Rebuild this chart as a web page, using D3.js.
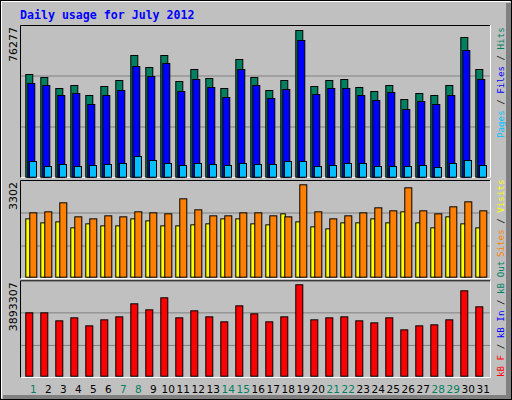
<!DOCTYPE html>
<html>
<head>
<meta charset="utf-8">
<script src="https://cdn.jsdelivr.net/npm/d3@7"></script>
<style>
  body { margin: 0; background: #fff; }
</style>
</head>
<body>
<div id="chart"></div>
<script>
// data
const days = d3.range(1, 32);
const weekendDays = [1, 7, 8, 14, 15, 21, 22, 28, 29];

const hits = [53400, 51840, 46120, 47680, 42480, 47160, 50280, 63280, 57040, 63280, 49760,
  56000, 51320, 46120, 61200, 51840, 45080, 50280, 76277, 47160, 50280, 50800, 46640,
  44560, 47680, 40400, 43520, 42480, 47680, 72640, 56000];
const files = [48720, 47680, 42480, 43520, 37800, 42480, 45080, 57560, 52360, 59120, 44560,
  50800, 46640, 41440, 56000, 47680, 40920, 45600, 71080, 43000, 46120, 46120, 42480,
  39880, 44040, 35200, 39360, 37800, 42480, 65880, 50800];
const pages = [8160, 5560, 6600, 5560, 6080, 6600, 7120, 10760, 8680, 7120, 6080, 7120, 6600,
  6080, 7120, 6600, 6600, 8160, 8160, 5560, 6080, 7120, 7120, 5560, 5560, 5560, 6080,
  5040, 7120, 8680, 6080];
const sites = [2300, 2336, 2658, 2157, 2085, 2193, 2157, 2336, 2300, 2264, 2801, 2407, 2193,
  2193, 2300, 2300, 2193, 2157, 3302, 2336, 2085, 2193, 2300, 2479, 2372, 3194, 2372,
  2264, 2515, 2693, 2372];
const visits = [2085, 1942, 1978, 1763, 1907, 1835, 1835, 2085, 2014, 1835, 1835, 1871, 1907,
  2085, 2085, 1907, 1871, 2264, 1978, 1799, 1728, 1942, 1942, 2085, 1942, 2336, 1942,
  1763, 2157, 1907, 1763];
const kbytes = [2699300, 2699300, 2358200, 2486100, 2144900, 2400800, 2528700, 3083100,
  2827200, 3338900, 2486100, 2784600, 2528700, 2315500, 2997800, 2656700, 2315500,
  2528700, 3893307, 2400800, 2486100, 2528700, 2358200, 2272900, 2486100, 1974400,
  2144900, 2187600, 2400800, 3637400, 2955200];

const W = 512, H = 400;
const svg = d3.select('#chart').append('svg').attr('width', W).attr('height', H)
  .style('display', 'block');

// outer frame
svg.append('rect').attr('x', 0).attr('y', 0).attr('width', W).attr('height', H).attr('fill', '#c0c0c0');
svg.append('rect').attr('x', 506).attr('y', 3).attr('width', 6).attr('height', 397).attr('fill', '#808080');
svg.append('rect').attr('x', 3).attr('y', 395).attr('width', 509).attr('height', 5).attr('fill', '#808080');
svg.append('rect').attr('x', 0.5).attr('y', 0.5).attr('width', W - 1).attr('height', H - 1)
  .attr('fill', 'none').attr('stroke', '#000');
svg.append('path').attr('d', 'M1.5,398V1.5H510').attr('stroke', '#fff').attr('fill', 'none');

svg.append('text').attr('x', 20).attr('y', 19)
  .attr('font-family', 'DejaVu Sans Mono').attr('font-weight', 'bold').attr('font-size', 11.6)
  .attr('fill', '#0000ff').text('Daily usage for July 2012');

const x = d3.scaleBand().domain(days).range([25.3, 490.3]);

const panels = [
  { top: 25, bottom: 178, base: 176.7, peak: 30, max: 76277, label: '76277' },
  { top: 180, bottom: 279, base: 276.7, peak: 184.3, max: 3302, label: '3302' },
  { top: 280.3, bottom: 378, base: 375.7, peak: 284.3, max: 3893307, label: '3893307' }
];

panels.forEach(p => {
  p.y = d3.scaleLinear().domain([0, p.max]).range([p.base, p.peak]);
  const h = p.bottom - p.top;
  [1, 2].forEach(k => {
    svg.append('line').attr('x1', 21).attr('x2', 490)
      .attr('y1', p.top + h * k / 3).attr('y2', p.top + h * k / 3)
      .attr('stroke', '#808080');
  });
  svg.append('path').attr('d', `M20.5,${p.bottom}V${p.top + 0.5}H490`)
    .attr('stroke', '#000').attr('fill', 'none');
  svg.append('path').attr('d', `M20.5,${p.bottom - 0.5}H490.5V${p.top + 0.5}`)
    .attr('stroke', '#fff').attr('fill', 'none');
  svg.append('text')
    .attr('transform', `translate(17,${p.top + 2}) rotate(-90)`)
    .attr('text-anchor', 'end').attr('font-family', 'DejaVu Sans').attr('font-size', 11)
    .attr('fill', '#000').text(p.label);
});

function bars(panel, values, dx, w, color) {
  svg.append('g').selectAll('rect').data(values).join('rect')
    .attr('x', (d, i) => x(days[i]) + dx + 0.5)
    .attr('y', d => panel.y(d) + 0.5)
    .attr('width', w)
    .attr('height', d => panel.base - panel.y(d))
    .attr('fill', color).attr('stroke', '#000');
}

bars(panels[0], hits, 0, 7, '#008060');
bars(panels[0], files, 2, 7, '#0000ff');
bars(panels[0], pages, 3.7, 7, '#00c0ff');
bars(panels[1], visits, 0, 4.5, '#ffff00');
bars(panels[1], sites, 4, 7, '#ff8000');
bars(panels[2], kbytes, 0, 7, '#ff0000');

// day labels
svg.append('g').selectAll('text').data(days).join('text')
  .attr('x', d => x(d) + 8).attr('y', 393)
  .attr('text-anchor', 'middle').attr('font-family', 'DejaVu Sans').attr('font-size', 10.5)
  .attr('fill', d => weekendDays.includes(d) ? '#008060' : '#000')
  .text(d => d);

// right-hand legends
function legend(yBottom, parts) {
  const t = svg.append('text')
    .attr('transform', `translate(504,${yBottom}) rotate(-90)`)
    .attr('font-family', 'DejaVu Sans Mono').attr('font-size', 9.2);
  parts.forEach(([s, c]) => t.append('tspan').attr('fill', c).text(s));
}
legend(138, [['Pages', '#00c0ff'], [' / ', '#000'], ['Files', '#0000ff'], [' / ', '#000'], ['Hits', '#008060']]);
legend(257, [['Sites', '#ff8000'], [' / ', '#000'], ['Visits', '#ffff00']]);
legend(377, [['kB F', '#ff0000'], [' / ', '#000'], ['kB In', '#0000ff'], [' / ', '#000'], ['kB Out', '#008060']]);
</script>
</body>
</html>
